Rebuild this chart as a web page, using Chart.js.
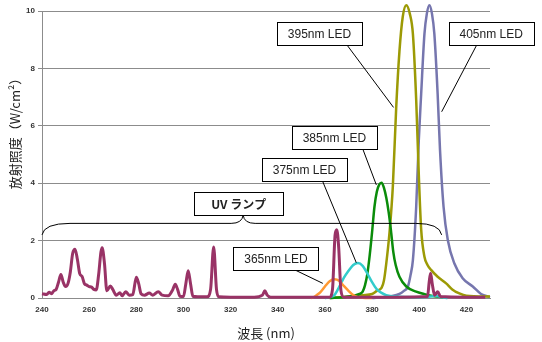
<!DOCTYPE html>
<html>
<head>
<meta charset="utf-8">
<script src="https://cdn.jsdelivr.net/npm/chart.js@4.4.1/dist/chart.umd.min.js"></script>
<style>
  body { margin: 0; background: #fff; }
  #wrap { width: 542px; height: 342px; }
</style>
</head>
<body>
<div id="wrap"><canvas id="spectrumChart"></canvas></div>
<script>
// wavelength (nm) and irradiance, one pair of arrays per source
const lampNm = [240, 242, 243, 244, 245, 246, 247, 248, 249, 250, 251, 252, 253, 254, 255, 256, 257, 258, 259, 260,
  261, 262, 263, 264, 265, 265.5, 266.5, 267.5, 269, 270, 271.5, 273, 274, 275.5, 277, 278.5, 280, 281, 282, 283.5,
  285.5, 287, 289.3, 291, 293.5, 295.5, 296.5, 297.5, 298.5, 300, 301, 302, 303, 304, 306, 310, 311.5, 312.8, 314, 315,
  320, 330, 333.5, 334.5, 335.5, 337, 350, 362, 363.2, 364.3, 365, 365.8, 366.8, 368, 380, 390, 403.5, 404.2, 404.8, 405.5,
  406.5, 407.8, 409, 420, 428];
const lampVal = [0.15, 0.12, 0.2, 0.15, 0.25, 0.3, 0.55, 0.82, 0.55, 0.4, 0.5, 0.9, 1.55, 1.7, 1.35, 0.85, 0.75, 0.5, 0.45, 0.4,
  0.38, 0.3, 0.28, 0.8, 1.6, 1.75, 1.2, 0.25, 0.42, 0.3, 0.1, 0.18, 0.08, 0.22, 0.1, 0.12, 0.72, 0.5, 0.15, 0.1,
  0.17, 0.1, 0.22, 0.1, 0.08, 0.3, 0.48, 0.3, 0.06, 0.05, 0.5, 0.95, 0.5, 0.06, 0.04, 0.04, 0.3, 1.78, 0.3, 0.04,
  0.03, 0.03, 0.1, 0.25, 0.1, 0.03, 0.03, 0.03, 0.3, 2.2, 2.38, 1.8, 0.25, 0.03, 0.03, 0.03, 0.05, 0.55, 0.86, 0.5,
  0.1, 0.22, 0.05, 0.03, 0.03];

const led365Nm = [354, 355, 356.5, 358, 360, 362, 364, 366, 368, 370, 372, 374, 376, 380];
const led365Val = [0, 0.02, 0.1, 0.2, 0.4, 0.58, 0.65, 0.6, 0.42, 0.25, 0.1, 0.03, 0.01, 0];

const led375Nm = [360, 362, 364, 366, 368, 370, 372, 374, 376, 378, 380, 382, 384, 386, 390, 400, 405, 407, 409, 412];
const led375Val = [0, 0.03, 0.1, 0.38, 0.7, 0.95, 1.15, 1.22, 1.12, 0.85, 0.55, 0.3, 0.18, 0.1, 0.05, 0.03, 0.05, 0.08, 0.03, 0];

const led385Nm = [362, 368, 372, 375, 376, 377, 378, 379, 380, 381, 382, 383, 384, 385, 386, 387, 388, 389, 390, 391.6,
  394.5, 398.7, 402, 405, 410];
const led385Val = [0, 0.03, 0.08, 0.15, 0.22, 0.45, 0.85, 1.5, 2.3, 3.18, 3.7, 3.95, 4.02, 3.85, 3.5, 3.0, 2.35, 1.6, 1.15, 0.74,
  0.4, 0.22, 0.14, 0.08, 0.03];

const led395Nm = [362, 370, 376, 380, 382, 384, 385, 386, 387.4, 388.8, 390.2, 391.6, 393, 394.5, 396, 397.3, 398.7, 399.8,
  400.8, 402.2, 403.5, 405, 407.8, 411.4, 414, 417, 420, 430];
const led395Val = [0, 0.05, 0.1, 0.14, 0.25, 0.35, 0.6, 1.2, 2.3, 3.9, 6.6, 8.6, 9.8, 10.2, 9.9, 9.2, 6.9, 4.3,
  2.4, 1.44, 1.15, 0.98, 0.74, 0.51, 0.3, 0.16, 0.08, 0.05];

const led405Nm = [380, 385, 388, 391.6, 393.5, 395.2, 396.3, 397.3, 398.7, 399.8, 400.8, 402.2, 403.2, 404.3, 405.4, 406.4,
  407.8, 408.8, 410.3, 412.1, 414.9, 418.4, 422.7, 426.2, 430];
const led405Val = [0, 0.03, 0.06, 0.14, 0.25, 0.4, 0.8, 1.32, 3.18, 5.5, 7.1, 9.2, 9.9, 10.2, 9.9, 9.2,
  7.1, 5.16, 3.18, 2.02, 1.2, 0.69, 0.4, 0.14, 0.03];

const xTicks = [240, 260, 280, 300, 320, 340, 360, 380, 400, 420];
const yTicks = [0, 2, 4, 6, 8, 10];
const yTitle = "放射照度（W/cm²）";

// callout labels: box centre, leader start and leader end, all in [nm, value]
const calloutText = ["395nm LED", "405nm LED", "385nm LED", "375nm LED", "365nm LED"];
const calloutAt = [[357.7, 9.21], [430.5, 9.21], [364.0, 5.59], [351.3, 4.46], [339.2, 1.38]];
const leaderFrom = [[369.3, 8.82], [424.4, 8.82], [376.1, 5.18], [359.1, 4.05], [347.2, 0.98]];
const leaderTo = [[389.1, 6.64], [409.5, 6.49], [381.8, 3.94], [373.3, 1.23], [359.1, 0.51]];

// brace over the lamp spectrum
const lampLabel = "UV ランプ";
const lampLabelAt = [323.4, 3.29];
const braceNm = [240, 325.3, 409.5];   // left end, tip, right end
const braceVal = [2.2, 2.6, 2.89];     // ends, line, tip

function toPoints(xs, ys) {
  return xs.map((v, i) => ({ x: v, y: ys[i] }));
}

function series(label, xs, ys, color, width) {
  return {
    label: label,
    data: toPoints(xs, ys),
    borderColor: color,
    borderWidth: width,
    pointRadius: 0,
    fill: false,
    cubicInterpolationMode: "monotone",
    clip: false,
  };
}

function drawBox(ctx, text, cx, cy, w, h, font) {
  const left = Math.round(cx - w / 2) + 0.5;
  const top = Math.round(cy - h / 2) + 0.5;
  ctx.fillStyle = "#fff";
  ctx.fillRect(left, top, w, h);
  ctx.strokeRect(left, top, w, h);
  ctx.fillStyle = "#222";
  ctx.font = font;
  ctx.textAlign = "center";
  ctx.textBaseline = "middle";
  ctx.fillText(text, cx, cy + 1);
}

const calloutPlugin = {
  id: "callouts",
  afterDraw(chart) {
    const { ctx, chartArea } = chart;
    const x = chart.scales.x;
    const y = chart.scales.y;
    ctx.save();

    // y axis title, sitting a little above the middle as in the original
    ctx.save();
    ctx.translate(15, (chartArea.top + chartArea.bottom) / 2 - 24);
    ctx.rotate(-Math.PI / 2);
    ctx.fillStyle = "#222";
    ctx.font = "13px 'Noto Sans CJK JP', sans-serif";
    ctx.textAlign = "center";
    ctx.textBaseline = "middle";
    ctx.fillText(yTitle, 0, 0);
    ctx.restore();

    ctx.strokeStyle = "#000";
    ctx.lineWidth = 1;

    // brace
    const x0 = x.getPixelForValue(braceNm[0]);
    const xm = x.getPixelForValue(braceNm[1]);
    const x1 = x.getPixelForValue(braceNm[2]);
    const ye = y.getPixelForValue(braceVal[0]);
    const yl = y.getPixelForValue(braceVal[1]);
    const yt = y.getPixelForValue(braceVal[2]);
    ctx.beginPath();
    ctx.moveTo(x0, ye);
    ctx.quadraticCurveTo(x0 + 2, yl, x0 + 28, yl);
    ctx.lineTo(xm - 12, yl);
    ctx.quadraticCurveTo(xm - 1, yl, xm, yt);
    ctx.quadraticCurveTo(xm + 1, yl, xm + 12, yl);
    ctx.lineTo(x1 - 26, yl);
    ctx.quadraticCurveTo(x1 - 2, yl, x1, ye);
    ctx.stroke();
    drawBox(ctx, lampLabel, x.getPixelForValue(lampLabelAt[0]), y.getPixelForValue(lampLabelAt[1]), 89, 23,
      "bold 12px 'Noto Sans CJK JP', sans-serif");

    calloutText.forEach((txt, i) => {
      ctx.strokeStyle = "#000";
      ctx.beginPath();
      ctx.moveTo(x.getPixelForValue(leaderFrom[i][0]), y.getPixelForValue(leaderFrom[i][1]));
      ctx.lineTo(x.getPixelForValue(leaderTo[i][0]), y.getPixelForValue(leaderTo[i][1]));
      ctx.stroke();
      drawBox(ctx, txt, x.getPixelForValue(calloutAt[i][0]), y.getPixelForValue(calloutAt[i][1]), 85, 23,
        "12px 'Liberation Sans', Arial, sans-serif");
    });
    ctx.restore();
  },
};

Chart.defaults.font.family = "'Liberation Sans', Arial, sans-serif";

const spectrumChart = new Chart(document.getElementById("spectrumChart"), {
  type: "line",
  data: {
    datasets: [
      series("UVランプ", lampNm, lampVal, "#993366", 3),
      series("365nm LED", led365Nm, led365Val, "#FF9933", 2.5),
      series("375nm LED", led375Nm, led375Val, "#33CCCC", 2.5),
      series("385nm LED", led385Nm, led385Val, "#0A8C0A", 2.5),
      series("395nm LED", led395Nm, led395Val, "#9C9A05", 2.5),
      series("405nm LED", led405Nm, led405Val, "#7676AE", 2.5),
    ],
  },
  options: {
    responsive: true,
    maintainAspectRatio: false,
    animation: false,
    layout: { padding: { top: 11, right: 52, left: 0, bottom: 0 } },
    plugins: {
      legend: { display: false },
      tooltip: { enabled: false },
    },
    scales: {
      x: {
        type: "linear",
        min: 240,
        max: 430,
        afterBuildTicks: (scale) => { scale.ticks = xTicks.map((v) => ({ value: v })); },
        afterFit: (scale) => { scale.height = 44; },
        grid: { display: false, drawTicks: false },
        border: { display: true, color: "#8c8c8c", width: 1 },
        ticks: { padding: 7, color: "#333", font: { size: 8, weight: "bold" }, maxRotation: 0 },
        title: {
          display: true,
          text: "波長 (nm)",
          color: "#222",
          padding: { top: 0, bottom: 1 },
          font: { size: 13, family: "'Noto Sans CJK JP', sans-serif" },
        },
      },
      y: {
        min: 0,
        max: 10,
        afterBuildTicks: (scale) => { scale.ticks = yTicks.map((v) => ({ value: v })); },
        afterFit: (scale) => { scale.width = 42; },
        grid: { color: "#8c8c8c", lineWidth: 1, drawTicks: true, tickLength: 4 },
        border: { display: true, color: "#8c8c8c", width: 1 },
        ticks: { padding: 3, color: "#333", font: { size: 8, weight: "bold" } },
      },
    },
  },
  plugins: [calloutPlugin],
});
</script>
</body>
</html>
